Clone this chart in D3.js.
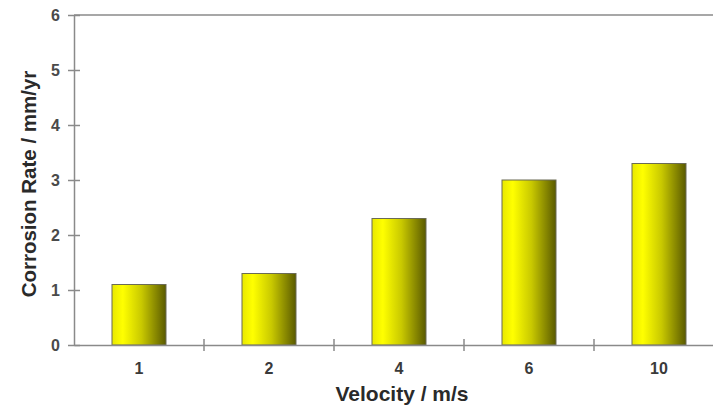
<!DOCTYPE html>
<html><head><meta charset="utf-8">
<script src="https://cdn.jsdelivr.net/npm/d3@7"></script>
<style>body{margin:0;background:#fff;}svg{display:block;}</style>
</head><body>
<script>
const categories = ["1", "2", "4", "6", "10"];
const values = [1.1, 1.3, 2.3, 3.0, 3.3];
const yTicks = [0, 1, 2, 3, 4, 5, 6];

const W = 713, H = 408;
const svg = d3.select("body").append("svg").attr("width", W).attr("height", H);
const mLeft = 74, mRight = 724, mTop = 15, mBottom = 345;
const FONT = "Liberation Sans, Arial, sans-serif";

const x = d3.scaleBand().domain(categories).range([mLeft, mRight]).paddingInner(0).paddingOuter(0);
const y = d3.scaleLinear().domain([0, 6]).range([mBottom, mTop]);

const defs = svg.append("defs");
const g = defs.append("linearGradient").attr("id", "barGrad").attr("x1", "0%").attr("x2", "100%");
g.append("stop").attr("offset", "0%").attr("stop-color", "#e8e800");
g.append("stop").attr("offset", "20%").attr("stop-color", "#ffff00");
g.append("stop").attr("offset", "55%").attr("stop-color", "#c8c800");
g.append("stop").attr("offset", "100%").attr("stop-color", "#5a5a00");

const axisColor = "#8a8a8a";
svg.append("line").attr("x1", mLeft).attr("x2", W).attr("y1", y(6)).attr("y2", y(6))
  .attr("stroke", axisColor).attr("stroke-width", 1.5);

const yAxis = svg.append("g").attr("transform", `translate(${mLeft},0)`)
  .call(d3.axisLeft(y).tickValues(yTicks).tickFormat(d3.format("d")).tickSize(0).tickPadding(14));
yAxis.select(".domain").attr("stroke", axisColor).attr("stroke-width", 1.5);
yAxis.selectAll(".tick").append("line").attr("x1", -6).attr("x2", 6).attr("stroke", axisColor).attr("stroke-width", 1.5);
yAxis.selectAll("text").attr("font-family", FONT)
  .attr("font-weight", "bold").attr("font-size", 16).attr("fill", "#4a4a4a");

const barW = 54;
svg.selectAll("rect.bar").data(values).enter().append("rect").attr("class", "bar")
  .attr("x", (d, i) => x(categories[i]) + x.bandwidth() / 2 - barW / 2)
  .attr("width", barW)
  .attr("y", d => y(d))
  .attr("height", d => y(0) - y(d))
  .attr("fill", "url(#barGrad)")
  .attr("stroke", "#6b6b55").attr("stroke-width", 1);

const xAxis = svg.append("g").attr("transform", `translate(0,${mBottom})`)
  .call(d3.axisBottom(x).tickSize(0).tickPadding(18));
xAxis.select(".domain").attr("stroke", axisColor).attr("stroke-width", 1.5);
xAxis.selectAll("text").attr("font-family", FONT)
  .attr("font-weight", "bold").attr("font-size", 16).attr("fill", "#3a3a3a");
xAxis.selectAll(".sep").data(categories.slice(1)).enter().append("line").attr("class", "sep")
  .attr("x1", d => x(d)).attr("x2", d => x(d)).attr("y1", -6).attr("y2", 6)
  .attr("stroke", axisColor).attr("stroke-width", 1.5);

svg.append("text").attr("x", 402).attr("y", 401).attr("text-anchor", "middle")
  .attr("font-family", FONT).attr("font-weight", "bold")
  .attr("font-size", 21).attr("fill", "#2a2a2a").text("Velocity / m/s");
svg.append("text").attr("transform", "translate(36,184) rotate(-90)").attr("text-anchor", "middle")
  .attr("font-family", FONT).attr("font-weight", "bold")
  .attr("font-size", 20.5).attr("fill", "#2a2a2a").text("Corrosion Rate / mm/yr");
</script>
</body></html>
